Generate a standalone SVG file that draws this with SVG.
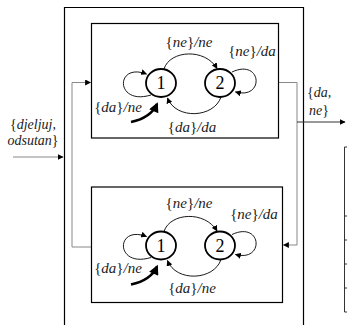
<svg xmlns="http://www.w3.org/2000/svg" width="347" height="325" viewBox="0 0 347 325">
<style>
.box{fill:none;stroke:#000;stroke-width:1.2}
.wire{fill:none;stroke:#888;stroke-width:1}
.wired{fill:none;stroke:#333;stroke-width:1}
.st{fill:#fff;stroke:#000;stroke-width:1.8}
.tr{fill:none;stroke:#000;stroke-width:0.9}
.init{fill:none;stroke:#000;stroke-width:2.6}
.lbl{font-family:'Liberation Serif','Times New Roman','DejaVu Serif',serif;font-size:14px;font-style:italic;fill:#222;text-anchor:middle}
.tl{font-size:15px}
.lbl tspan.r{font-style:normal}
.num{font-family:'Liberation Serif','Times New Roman','DejaVu Serif',serif;font-size:18px;fill:#000;text-anchor:middle}
.tick{fill:none;stroke:#333;stroke-width:1}
</style>
<defs>
<marker id="a" viewBox="0 0 10 10" refX="9" refY="5" markerWidth="6" markerHeight="6" markerUnits="userSpaceOnUse" orient="auto">
<path d="M0,0 L10,5 L0,10 z" fill="#000"/>
</marker>
<marker id="big" viewBox="0 0 10 10" refX="8" refY="5" markerWidth="11" markerHeight="10" markerUnits="userSpaceOnUse" orient="auto">
<path d="M0,0 L10,5 L0,10 z" fill="#000"/>
</marker>
</defs>

<g id="outer">
<path class="box" d="M64.5,325 V7.5 H303.5 V325"/>
</g>

<g id="table">
<path class="tick" d="M344.5,147 V312 M344.5,147 H347 M344.5,216 H347 M344.5,240 H347 M344.5,264 H347 M344.5,288 H347 M344.5,312 H347"/>
</g>

<g id="connectors">
<path class="wire" d="M13,157 H63" marker-end="url(#a)"/>
<path class="wire" d="M72,247 V82.5 H90.5" marker-end="url(#a)"/>
<path class="wire" d="M72,247 H91.5"/>
<path class="wire" d="M278.5,82.5 H297 V245 H283.5" marker-end="url(#a)"/>
<path class="wired" d="M297,122 H345" marker-end="url(#a)"/>
</g>

<g id="labels-io">
<text class="lbl" x="33" y="129"><tspan class="r">{</tspan>djeljuj,</text>
<text class="lbl" x="33" y="145">odsutan<tspan class="r">}</tspan></text>
<text class="lbl" x="307" y="97" style="text-anchor:start"><tspan class="r">{</tspan>da,</text>
<text class="lbl" x="309" y="115" style="text-anchor:start">ne<tspan class="r">}</tspan></text>
</g>

<g id="machine-top">
<rect class="box" x="91.5" y="23.5" width="187" height="114.5"/>
<path class="tr" d="M164,69 C170,50 205,48 217,68.5" marker-end="url(#a)"/>
<path class="tr" d="M221,97 C214,118 176,120 167.5,98" marker-end="url(#a)"/>
<path class="tr" d="M151,95 C115,106 115,62 146.5,74" marker-end="url(#a)"/>
<path class="tr" d="M232,72 C262,58 265,100 235.5,92" marker-end="url(#a)"/>
<path class="init" d="M131,122 C145,119 153,113 157,104" marker-end="url(#big)"/>
<ellipse class="st" cx="161" cy="83" rx="15" ry="14"/>
<ellipse class="st" cx="220" cy="83" rx="15" ry="14"/>
<text class="num" x="161" y="89">1</text>
<text class="num" x="220" y="89">2</text>
<text class="lbl tl" x="189" y="47"><tspan class="r">{</tspan>ne<tspan class="r">}</tspan>/ne</text>
<text class="lbl tl" x="252" y="56"><tspan class="r">{</tspan>ne<tspan class="r">}</tspan>/da</text>
<text class="lbl tl" x="118" y="112"><tspan class="r">{</tspan>da<tspan class="r">}</tspan>/ne</text>
<text class="lbl tl" x="192" y="132"><tspan class="r">{</tspan>da<tspan class="r">}</tspan>/da</text>
</g>

<g id="machine-bottom">
<rect class="box" x="91.5" y="187" width="191" height="115.5"/>
<g transform="translate(0,162.5)">
<path class="tr" d="M164,69 C170,50 205,48 217,68.5" marker-end="url(#a)"/>
<path class="tr" d="M221,97 C214,118 176,120 167.5,98" marker-end="url(#a)"/>
<path class="tr" d="M151,95 C115,106 115,62 146.5,74" marker-end="url(#a)"/>
<path class="tr" d="M232,72 C262,58 265,100 235.5,92" marker-end="url(#a)"/>
<path class="init" d="M131,122 C145,119 153,113 157,104" marker-end="url(#big)"/>
<ellipse class="st" cx="161" cy="83" rx="15" ry="14"/>
<ellipse class="st" cx="220" cy="83" rx="15" ry="14"/>
<text class="num" x="161" y="89">1</text>
<text class="num" x="220" y="89">2</text>
<text class="lbl tl" x="189" y="45"><tspan class="r">{</tspan>ne<tspan class="r">}</tspan>/ne</text>
<text class="lbl tl" x="254" y="56"><tspan class="r">{</tspan>ne<tspan class="r">}</tspan>/da</text>
<text class="lbl tl" x="118" y="110"><tspan class="r">{</tspan>da<tspan class="r">}</tspan>/ne</text>
<text class="lbl tl" x="192" y="130"><tspan class="r">{</tspan>da<tspan class="r">}</tspan>/ne</text>
</g>
</g>
</svg>
